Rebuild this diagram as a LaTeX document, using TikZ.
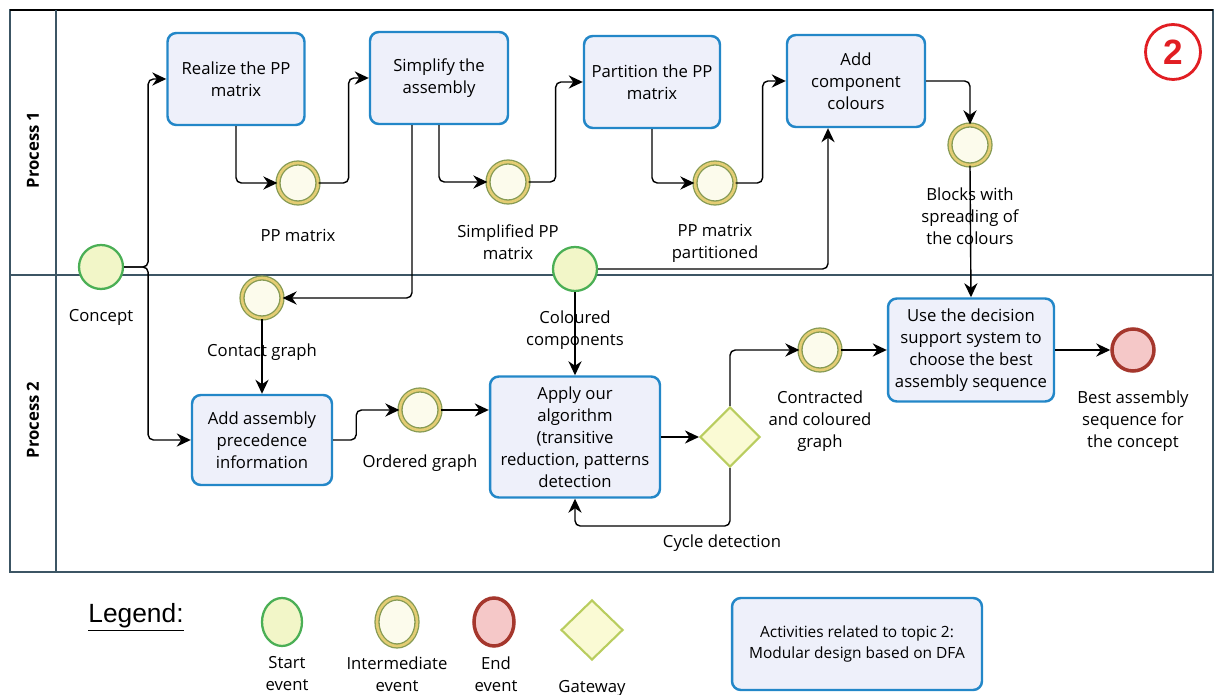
\documentclass[tikz,border=0pt]{standalone}
\usepackage{fontspec}
\setmainfont{Open Sans}
\newfontfamily\legendfont{Liberation Sans}
\usepackage{tikz}
\usetikzlibrary{arrows.meta}
\usetikzlibrary{shapes.geometric}
\definecolor{taskblue}{RGB}{35,135,200}
\definecolor{taskfill}{RGB}{238,240,250}
\definecolor{startgreen}{RGB}{75,175,85}
\definecolor{startfill}{RGB}{242,246,200}
\definecolor{interolive}{RGB}{135,155,85}
\definecolor{intergold}{RGB}{228,205,115}
\definecolor{interfill}{RGB}{252,251,236}
\definecolor{endred}{RGB}{165,55,45}
\definecolor{endfill}{RGB}{245,200,200}
\definecolor{gateolive}{RGB}{185,205,95}
\definecolor{gatefill}{RGB}{250,250,212}
\definecolor{framegrey}{RGB}{60,85,100}
\definecolor{markred}{RGB}{225,30,35}
\begin{document}
\begin{tikzpicture}[x=0.02cm, y=-0.02cm,
      task/.style={draw=taskblue, line width=1.4pt, fill=taskfill, rounded corners=5pt, align=center, font=\fontsize{9.5}{12.5}\selectfont, inner sep=2pt},
      startev/.style={circle, draw=startgreen, line width=1.3pt, fill=startfill, minimum size=0.88cm},
      interev/.style={circle, draw=interolive, double=intergold, double distance=1.5pt, line width=0.75pt, fill=interfill, minimum size=0.8cm},
      endev/.style={circle, draw=endred, line width=2pt, fill=endfill, minimum size=0.84cm},
      gateway/.style={diamond, draw=gateolive, line width=1.2pt, fill=gatefill, minimum width=1.2cm, minimum height=1.2cm, inner sep=0pt},
      lbl/.style={align=center, font=\fontsize{9.5}{12.5}\selectfont},
      lanetitle/.style={rotate=90, font=\fontsize{9.5}{11}\selectfont\bfseries},
      flow/.style={-{Stealth[length=8pt,width=7.5pt]}, line width=0.8pt, rounded corners=3pt}]
      \useasboundingbox (0,0) rectangle (1215,695);
      \draw[framegrey, line width=1pt] (10,10) rectangle (1213,572);
      \draw[black, line width=1.2pt] (10,10) -- (1213,10);
      \draw[framegrey, line width=1pt] (56,10) -- (56,572);
      \draw[framegrey, line width=1pt] (10,275) -- (1213,275);
      \node[lanetitle] (proc1) at (33,150) {Process 1};
      \node[lanetitle] (proc2) at (33,420) {Process 2};
      \node[circle, draw=markred, line width=1.6pt, minimum size=1.1cm, text=markred, font=\legendfont\fontsize{20}{20}\selectfont\bfseries] (topic) at (1173,52) {2};

      \node[task, minimum width=2.74cm, minimum height=1.84cm] (realize) at (236,79) {Realize the PP\\matrix};
      \node[task, minimum width=2.76cm, minimum height=1.84cm] (simplify) at (439,78) {Simplify the\\assembly};
      \node[task, minimum width=2.72cm, minimum height=1.84cm] (partition) at (652,82) {Partition the PP\\matrix};
      \node[task, minimum width=2.76cm, minimum height=1.84cm] (addcol) at (856,81) {Add\\component\\colours};
      \node[task, minimum width=2.8cm, minimum height=1.8cm] (addasm) at (262,440) {Add assembly\\precedence\\information};
      \node[task, minimum width=3.4cm, minimum height=2.42cm] (apply) at (575,437) {Apply our\\algorithm\\(transitive\\reduction, patterns\\detection};
      \node[task, minimum width=3.32cm, minimum height=2.06cm] (decide) at (971,350) {Use the decision\\support system to\\choose the best\\assembly sequence};

      \node[startev] (concept) at (101,267) {};
      \node[startev] (colcomp) at (575,269) {};
      \node[interev] (ppm) at (298,183) {};
      \node[interev] (sppm) at (508,182) {};
      \node[interev] (ppp) at (715,183) {};
      \node[interev] (blocks) at (970,145) {};
      \node[interev] (contact) at (262,298) {};
      \node[interev] (ordered) at (420,410) {};
      \node[interev] (contracted) at (820,350) {};
      \node[gateway] (gate) at (730,437) {};
      \node[endev] (bestend) at (1133,350) {};

      \node[lbl] (conceptlbl) at (101,317) {Concept};
      \node[lbl] (colcomplbl) at (575,330) {Coloured\\components};
      \node[lbl] (ppmlbl) at (298,235) {PP matrix};
      \node[lbl] (sppmlbl) at (508,242) {Simplified PP\\matrix};
      \node[lbl] (ppplbl) at (715,243) {PP matrix\\partitioned};
      \node[lbl] (blockslbl) at (970,216) {Blocks with\\spreading of\\the colours};
      \node[lbl] (contactlbl) at (262,352) {Contact graph};
      \node[lbl] (orderedlbl) at (420,463) {Ordered graph};
      \node[lbl] (contractedlbl) at (820,421) {Contracted\\and coloured\\graph};
      \node[lbl] (bestendlbl) at (1133,421) {Best assembly\\sequence for\\the concept};
      \node[lbl] (cyclelbl) at (722,543) {Cycle detection};

      \draw[flow] (concept.east) -- ++(24,0) |- (realize.west);
      \draw[flow] (concept.east) -- ++(24,0) |- (addasm.west);
      \draw[flow] (realize.south) |- (ppm.west);
      \draw[flow] (ppm.east) -- ++(30,0) |- (simplify.west);
      \draw[flow] (simplify.south) |- (sppm.west);
      \draw[flow] ([xshift=-0.54cm]simplify.south) |- (contact.east);
      \draw[flow] (sppm.east) -- ++(27,0) |- (partition.west);
      \draw[flow] (partition.south) |- (ppp.west);
      \draw[flow] (ppp.east) -- ++(27,0) |- (addcol.west);
      \draw[flow] (colcomp.east) -| ([xshift=-0.56cm]addcol.south);
      \draw[flow] (addcol.east) -| (blocks.north);
      \draw[flow] (blocks.south) -- (decide.north);
      \draw[flow] (colcomp.south) -- (apply.north);
      \draw[flow] (contact.south) -- (addasm.north);
      \draw[flow] (addasm.east) -- ++(23,0) |- (ordered.west);
      \draw[flow] (ordered.east) -- (ordered.east -| apply.west);
      \draw[flow] (apply.east) -- (gate.west);
      \draw[flow] (gate.north) |- (contracted.west);
      \draw[flow] (contracted.east) -- (decide.west);
      \draw[flow] (decide.east) -- (bestend.west);
      \draw[flow] (gate.south) -- ++(0,58) -| (apply.south);

      \node[font=\legendfont\fontsize{15}{15}\selectfont] (legend) at (136,617) {\underline{Legend:}};
      \node[startev, ellipse, minimum width=0.8cm, minimum height=0.96cm] (lstart) at (282,622) {};
      \node[interev, ellipse, minimum width=0.8cm, minimum height=0.96cm] (linter) at (397,622) {};
      \node[endev, ellipse, minimum width=0.8cm, minimum height=0.96cm] (lend) at (494,622) {};
      \node[gateway, minimum width=1.24cm, minimum height=1.2cm] (lgate) at (592,630) {};
      \node[lbl] (lstartlbl) at (287,674) {Start\\event};
      \node[lbl] (linterlbl) at (397,674) {Intermediate\\event};
      \node[lbl] (lendlbl) at (496,674) {End\\event};
      \node[lbl] (lgatelbl) at (592,688) {Gateway};
      \node[task, minimum width=5cm, minimum height=1.84cm, font=\fontsize{8.8}{12.5}\selectfont] (ltask) at (857,644) {Activities related to topic 2:\\Modular design based on DFA};
\end{tikzpicture}
\end{document}
